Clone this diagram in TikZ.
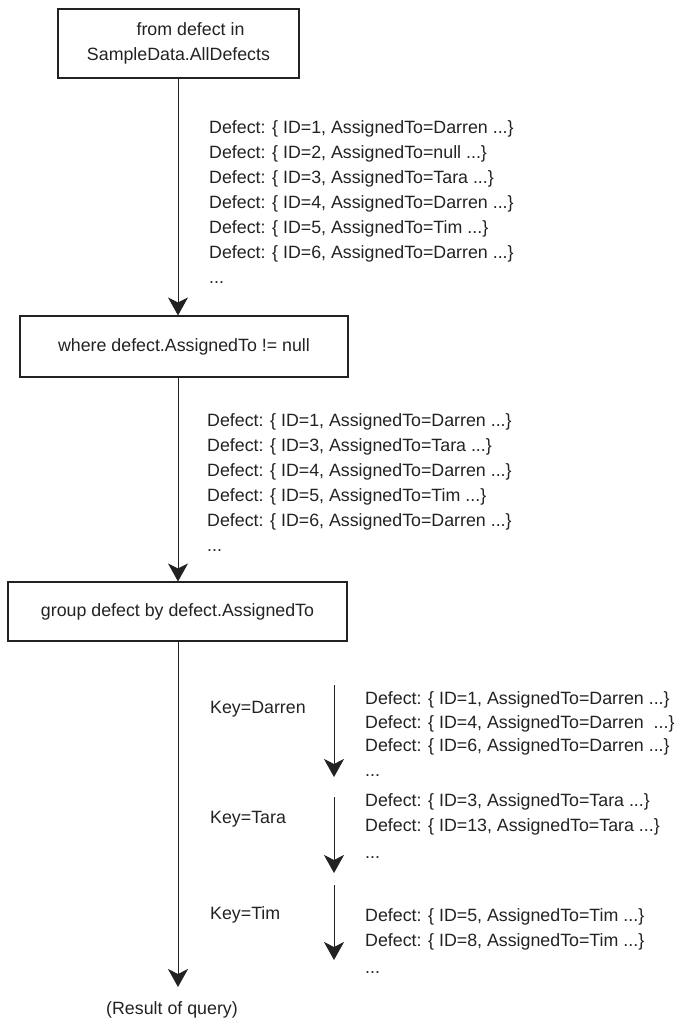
\documentclass[tikz,border=0pt]{standalone}
\usepackage{fontspec}
\setmainfont{Liberation Sans}
\usetikzlibrary{arrows.meta}
\definecolor{ink}{HTML}{222222}
\newcommand\dts{...}
\tikzset{
  box/.style={draw=ink, line width=1.1pt, inner sep=0pt, align=center, text=ink},
  txt/.style={anchor=base west, inner sep=0pt, text=ink},
  flow/.style={draw=ink, line width=1pt, -{Stealth[length=18pt,width=20pt,inset=5pt]}}
}
\begin{document}
\begin{tikzpicture}[x=1pt,y=-1pt, font=\fontsize{17.8}{25}\selectfont]
\useasboundingbox (0,0) rectangle (676,1028);
% boxes
\node[box, minimum width=241pt, minimum height=69pt] (b1) at (178.5,43.5) {\hspace*{24pt}from defect in\\SampleData.AllDefects};
\node[box, minimum width=328pt, minimum height=61pt] (b2) at (184,346.5) {where defect.AssignedTo != null};
\node[box, minimum width=339pt, minimum height=59pt] (b3) at (177.5,611.5) {group defect by defect.AssignedTo};
\node[text=ink, inner sep=0pt] (res) at (172,1010) {(Result of query)};
% main connectors
\coordinate (tip3) at (178,987);
\draw[flow] (178,0 |- b1.south) -- (178,0 |- b2.north);
\draw[flow] (178,0 |- b2.south) -- (178,0 |- b3.north);
\draw[flow] (178,0 |- b3.south) -- (tip3);
% segment 1 text
\foreach \t [count=\i] in {{Defect: \{ ID=1, AssignedTo=Darren \dts\}},
  {Defect: \{ ID=2, AssignedTo=null \dts\}},
  {Defect: \{ ID=3, AssignedTo=Tara \dts\}},
  {Defect: \{ ID=4, AssignedTo=Darren \dts\}},
  {Defect: \{ ID=5, AssignedTo=Tim \dts\}},
  {Defect: \{ ID=6, AssignedTo=Darren \dts\}},
  {\dts}}
  \node[txt] (s1l\i) at (209,{127+25*(\i-1)+6.5}) {\t};
% segment 2 text
\foreach \t [count=\i] in {{Defect: \{ ID=1, AssignedTo=Darren \dts\}},
  {Defect: \{ ID=3, AssignedTo=Tara \dts\}},
  {Defect: \{ ID=4, AssignedTo=Darren \dts\}},
  {Defect: \{ ID=5, AssignedTo=Tim \dts\}},
  {Defect: \{ ID=6, AssignedTo=Darren \dts\}},
  {\dts}}
  \node[txt] (s2l\i) at (207,{420+25*(\i-1)+6.5}) {\t};
% groups
\node[txt] (kd) at (210,713.5) {Key=Darren};
\node[txt] (kt) at (210,823.5) {Key=Tara};
\node[txt] (km) at (210,919.5) {Key=Tim};
\coordinate (d0) at (334,685); \coordinate (d1) at (334,777);
\coordinate (t0) at (334,797); \coordinate (t1) at (334,873);
\coordinate (m0) at (334,885); \coordinate (m1) at (334,960);
\draw[flow] (d0) -- (d1);
\draw[flow] (t0) -- (t1);
\draw[flow] (m0) -- (m1);
\node[txt] (dl1) at (365,704.5) {Defect: \{ ID=1, AssignedTo=Darren \dts\}};
\node[txt] (dl2) at (365,728.5) {Defect: \{ ID=4, AssignedTo=Darren\ \ \dts\}};
\node[txt] (dl3) at (365,751.5) {Defect: \{ ID=6, AssignedTo=Darren \dts\}};
\node[txt] (dl4) at (365,776) {\dts};
\node[txt] (tl1) at (365,806.5) {Defect: \{ ID=3, AssignedTo=Tara \dts\}};
\node[txt] (tl2) at (365,831.5) {Defect: \{ ID=13, AssignedTo=Tara \dts\}};
\node[txt] (tl3) at (365,858) {\dts};
\node[txt] (ml1) at (365,921.5) {Defect: \{ ID=5, AssignedTo=Tim \dts\}};
\node[txt] (ml2) at (365,946.5) {Defect: \{ ID=8, AssignedTo=Tim \dts\}};
\node[txt] (ml3) at (365,973) {\dts};
\end{tikzpicture}
\end{document}
